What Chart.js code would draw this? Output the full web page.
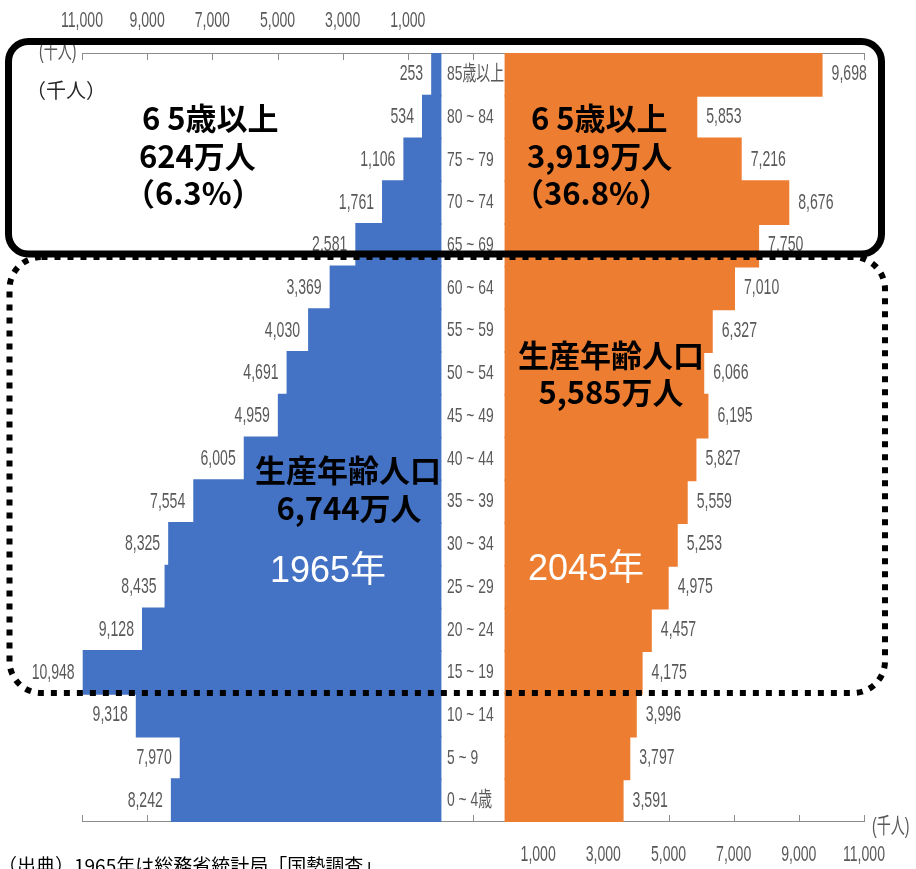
<!DOCTYPE html>
<html>
<head>
<meta charset="utf-8">
<script src="https://cdn.jsdelivr.net/npm/chart.js"></script>
<style>
	html, body {
		margin: 0;
		padding: 0;
		background: #fff;
		overflow: hidden;
	}
	#wrap {
		position: relative;
		width: 916px;
		height: 869px;
	}
</style>
</head>
<body>
<div id="wrap"><canvas id="pyramid"></canvas></div>
<script>

	// Age groups, oldest at the top
	var ages = ['85歳以上', '80 ~ 84', '75 ~ 79', '70 ~ 74', '65 ~ 69', '60 ~ 64', '55 ~ 59', '50 ~ 54',
		'45 ~ 49', '40 ~ 44', '35 ~ 39', '30 ~ 34', '25 ~ 29', '20 ~ 24', '15 ~ 19', '10 ~ 14', '5 ~ 9', '0 ~ 4歳'];

	// Population in thousands
	var pop1965 = [253, 534, 1106, 1761, 2581, 3369, 4030, 4691, 4959, 6005, 7554, 8325, 8435, 9128, 10948, 9318, 7970, 8242];
	var pop2045 = [9698, 5853, 7216, 8676, 7750, 7010, 6327, 6066, 6195, 5827, 5559, 5253, 4975, 4457, 4175, 3996, 3797, 3591];

	// Half of the empty strip in the middle where the age labels go (same units as the data)
	var GAP = 1000;

	var BLUE = '#4472C4';
	var ORANGE = '#ED7D31';
	var GREY = '#595959';
	var NUM_FONT = '"Liberation Sans", "Noto Sans CJK JP", sans-serif';
	var JP_FONT = '"Noto Sans CJK JP", sans-serif';

	// Draw text, optionally squeezed horizontally
	function text(ctx, str, x, y, font, color, align, sx) {
		ctx.save();
		ctx.font = font;
		ctx.fillStyle = color;
		ctx.textAlign = align || 'left';
		ctx.textBaseline = 'middle';
		ctx.translate(x, y);
		ctx.scale(sx || 1, 1);
		ctx.fillText(str, 0, 0);
		ctx.restore();
	}

	function fmt(n) {
		return n.toLocaleString('en-US');
	}

	var decor = {
		id: 'decor',
		beforeDatasetsDraw: function (chart) {
			var ctx = chart.ctx;
			var area = chart.chartArea;
			var xs = chart.scales.x;
			ctx.save();
			ctx.strokeStyle = '#8c8c8c';
			ctx.lineWidth = 1;
			ctx.beginPath();
			ctx.moveTo(area.left, area.top + 0.5);
			ctx.lineTo(area.right, area.top + 0.5);
			ctx.moveTo(area.left, area.bottom - 0.5);
			ctx.lineTo(area.right, area.bottom - 0.5);
			xs.ticks.forEach(function (t) {
				var px = Math.round(xs.getPixelForValue(t.value)) + 0.5;
				ctx.moveTo(px, area.top);
				ctx.lineTo(px, area.top + 7);
				ctx.moveTo(px, area.bottom);
				ctx.lineTo(px, area.bottom - 7);
			});
			ctx.stroke();
			ctx.restore();
		},
		afterDatasetsDraw: function (chart) {
			var ctx = chart.ctx;
			var xs = chart.scales.x;
			var ys = chart.scales.y;
			var numFont = '22px ' + NUM_FONT;

			// axis labels: left half on top, right half at the bottom
			xs.ticks.forEach(function (t) {
				var px = xs.getPixelForValue(t.value);
				var shown = Math.abs(t.value) - GAP;
				if (t.value < 0 && shown > 0) text(ctx, fmt(shown), px, 21, numFont, GREY, 'center', 0.64);
				if (t.value > 0 && shown > 0) text(ctx, fmt(shown), px, 855, numFont, GREY, 'center', 0.64);
			});
			text(ctx, '(千人)', 872, 827, numFont, GREY, 'left', 0.64);
			text(ctx, '(千人)', 39, 52, numFont, GREY, 'left', 0.64);

			// age labels and bar values
			ages.forEach(function (age, i) {
				var py = ys.getPixelForValue(i);
				text(ctx, age, xs.getPixelForValue(0) - 26, py, '21px ' + NUM_FONT, GREY, 'left', 0.66);
				var l = xs.getPixelForValue(-GAP - pop1965[i]);
				text(ctx, fmt(pop1965[i]), l - 9, py, numFont, GREY, 'right', 0.64);
				var r = xs.getPixelForValue(GAP + pop2045[i]);
				text(ctx, fmt(pop2045[i]), r + 10, py, numFont, GREY, 'left', 0.64);
			});

			// summary notes
			var bold = 'bold 31px ' + JP_FONT;
			text(ctx, '（千人）', 26, 90, '20px ' + JP_FONT, '#262626', 'left');
			text(ctx, '6 5歳以上', 142, 118, bold, '#000', 'left');
			text(ctx, '624万人', 139, 156, bold, '#000', 'left');
			text(ctx, '（6.3%）', 124, 193, bold, '#000', 'left');
			text(ctx, '6 5歳以上', 531, 118, bold, '#000', 'left');
			text(ctx, '3,919万人', 527, 156, bold, '#000', 'left');
			text(ctx, '（36.8%）', 513, 193, bold, '#000', 'left');
			text(ctx, '生産年齢人口', 348, 470, bold, '#000', 'center');
			text(ctx, '6,744万人', 349, 508, bold, '#000', 'center');
			text(ctx, '生産年齢人口', 611, 355, bold, '#000', 'center');
			text(ctx, '5,585万人', 611, 392, bold, '#000', 'center');
			text(ctx, '1965年', 328, 572, '36px ' + NUM_FONT, '#fff', 'center');
			text(ctx, '2045年', 586, 570, '36px ' + NUM_FONT, '#fff', 'center');
			text(ctx, '（出典）1965年は総務省統計局「国勢調査」', -2, 866, '19px ' + JP_FONT, '#000', 'left');

			// working-age group (dotted) and 65+ group (solid) frames
			ctx.save();
			ctx.strokeStyle = '#000';
			ctx.lineWidth = 6;
			ctx.setLineDash([6, 7]);
			ctx.beginPath();
			ctx.roundRect(9.5, 257, 875.5, 436, 32);
			ctx.stroke();
			ctx.setLineDash([]);
			ctx.lineWidth = 7;
			ctx.beginPath();
			ctx.roundRect(8.5, 41.5, 873, 212.5, 20);
			ctx.stroke();
			ctx.restore();
		}
	};

	window.onload = function () {
		new Chart(document.getElementById('pyramid'), {
			type: 'bar',
			data: {
				labels: ages,
				datasets: [{
					label: '1965年',
					data: pop1965.map(function (v) { return [-GAP - v, -GAP]; }),
					backgroundColor: BLUE,
					borderWidth: 0,
					inflateAmount: 1,
					grouped: false,
					barPercentage: 1,
					categoryPercentage: 1
				}, {
					label: '2045年',
					data: pop2045.map(function (v) { return [GAP, GAP + v]; }),
					backgroundColor: ORANGE,
					borderWidth: 0,
					inflateAmount: 1,
					grouped: false,
					barPercentage: 1,
					categoryPercentage: 1
				}]
			},
			options: {
				indexAxis: 'y',
				responsive: true,
				maintainAspectRatio: false,
				animation: false,
				layout: { padding: { left: 82, right: 52, top: 53, bottom: 47 } },
				plugins: { legend: { display: false }, tooltip: { enabled: false } },
				scales: {
					x: { display: false, min: -12000, max: 12000, ticks: { stepSize: 2000 } },
					y: { display: false }
				}
			},
			plugins: [decor]
		});
	};

</script>
</body>
</html>
